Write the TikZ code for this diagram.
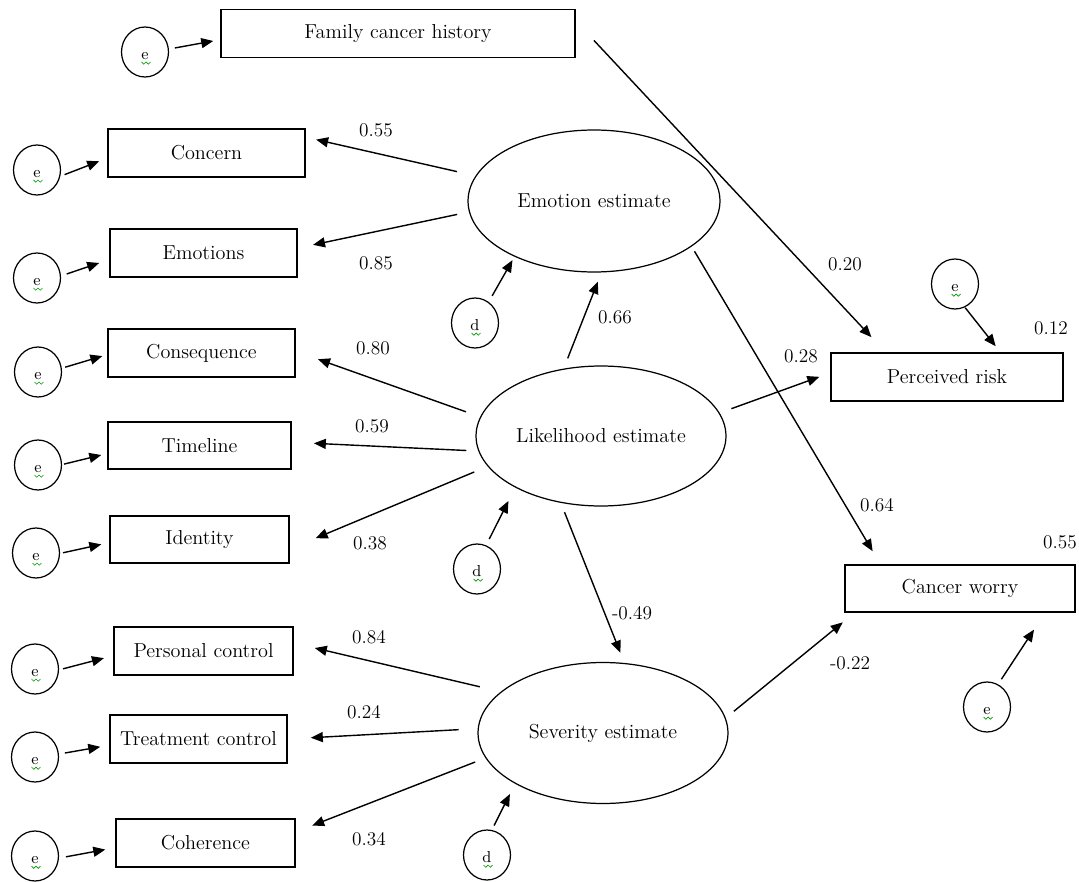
\documentclass[tikz,border=0pt]{standalone}
\usetikzlibrary{shapes.geometric}
\usetikzlibrary{arrows.meta}

\tikzset{
  obs/.style={draw, line width=1pt, rectangle, inner sep=0pt, minimum height=0.96cm, font=\fontsize{11.5}{13}\selectfont},
  lat/.style={draw, line width=0.7pt, ellipse, inner sep=0pt, minimum width=5cm, minimum height=2.82cm, font=\fontsize{11.5}{13}\selectfont},
  res/.style={draw, line width=0.7pt, ellipse, inner sep=0pt, minimum width=0.94cm, minimum height=1cm, font=\fontsize{9}{9}\selectfont,
    path picture={\draw[green!60!black, line width=0.4pt] ([xshift=-0.7mm,yshift=-2.0mm]path picture bounding box.center) -- ++(0.45mm,-0.45mm) -- ++(0.45mm,0.45mm) -- ++(0.45mm,-0.45mm) -- ++(0.45mm,0.45mm);}},
  coef/.style={inner sep=0pt, font=\fontsize{11}{12}\selectfont},
  arr/.style={-{Triangle[length=2.4mm,width=2mm]}, line width=0.8pt}
}
\newcommand{\resl}[1]{\raisebox{-1.5mm}[0pt][0pt]{#1}}

\begin{document}
\begin{tikzpicture}[x=0.02cm, y=-0.02cm]
\useasboundingbox (0,0) rectangle (1079,882);

%observed
\node[obs, minimum width=7.08cm] (fch) at (398,33.5) {Family cancer history};
\node[obs, minimum width=3.94cm] (concern) at (206.5,153) {Concern};
\node[obs, minimum width=3.74cm] (emotions) at (203.5,253) {Emotions};
\node[obs, minimum width=3.74cm] (conseq) at (201.5,353) {Consequence};
\node[obs, minimum width=3.66cm, minimum height=0.94cm] (timeline) at (199.5,445.5) {Timeline};
\node[obs, minimum width=3.58cm, minimum height=0.94cm] (identity) at (199.5,539.5) {Identity};
\node[obs, minimum width=3.58cm] (pcontrol) at (203.5,651) {Personal control};
\node[obs, minimum width=3.54cm] (tcontrol) at (198.5,739) {Treatment control};
\node[obs, minimum width=3.58cm] (coherence) at (205.5,843) {Coherence};
\node[obs, minimum width=4.64cm] (prisk) at (947,377) {Perceived risk};
\node[obs, minimum width=4.60cm, minimum height=0.94cm] (cworry) at (960,588.5) {Cancer worry};

%latent
\node[lat, minimum width=5.04cm, minimum height=2.84cm] (emo) at (594,201) {Emotion estimate};
\node[lat, minimum height=2.8cm] (lik) at (601,436) {Likelihood estimate};
\node[lat] (sev) at (603,733) {Severity estimate};

%errors
\node[res] (e0) at (145,52) {\resl{e}};
\node[res] (e1) at (37,170) {\resl{e}};
\node[res] (e2) at (37,278) {\resl{e}};
\node[res] (e3) at (38,372) {\resl{e}};
\node[res] (e4) at (38,465) {\resl{e}};
\node[res] (e5) at (36,553) {\resl{e}};
\node[res] (e6) at (35,669) {\resl{e}};
\node[res] (e7) at (35,757) {\resl{e}};
\node[res] (e8) at (35,856) {\resl{e}};
\node[res] (e9) at (955,284) {\resl{e}};
\node[res] (e10) at (987,707) {\resl{e}};
\node[res] (d1) at (475,323) {\resl{d}};
\node[res] (d2) at (477,569) {\resl{d}};
\node[res] (d3) at (487,855) {\resl{d}};

%error arrows
\draw[arr, shorten <=1.2mm, shorten >=1.4mm] (e0.7.3) -- (fch.182.4);
\draw[arr, shorten <=0.9mm, shorten >=1.7mm] (e1.345) -- (concern.183.5);
\draw[arr, shorten <=1.2mm, shorten >=2.1mm] (e2.5) -- (emotions.184.1);
\draw[arr, shorten <=0.7mm, shorten >=1.0mm] (e3.9.9) -- (conseq.181.7);
\draw[arr, shorten <=0.4mm, shorten >=1.2mm] (e4.1.2) -- (timeline.185.1);
\draw[arr, shorten <=0.6mm, shorten >=1.6mm] (e5.-1.5) -- (identity.182.5);
\draw[arr, shorten <=0.8mm, shorten >=1.9mm] (e6.-2) -- (pcontrol.183.8);
\draw[arr, shorten <=1.2mm, shorten >=1.8mm] (e7.7.1) -- (tcontrol.184.2);
\draw[arr, shorten <=1.4mm, shorten >=2.0mm] (e8.-5.2) -- (coherence.183.3);
\draw[arr, shorten <=0.1mm, shorten >=1.5mm] (e9.293.5) -- (prisk.25.6);
\draw[arr, shorten <=1.2mm, shorten >=4.0mm] (e10.64.7) -- (cworry.344.1);
\draw[arr, shorten <=1.4mm, shorten >=0.8mm] (d1.57.3) -- (emo.215.1);
\draw[arr, shorten <=1.4mm, shorten >=3.0mm] (d2.69.1) -- (lik.211.7);
\draw[arr, shorten <=1.0mm, shorten >=2.3mm] (d3.79.2) -- (sev.210.4);

%loadings
\draw[arr, shorten <=3.8mm, shorten >=2.1mm] (emo.168.8) -- (concern.9.5);
\draw[arr, shorten <=2.4mm, shorten >=3.1mm] (emo.185.3) -- (emotions.3);
\draw[arr, shorten <=3.0mm, shorten >=4.7mm] (lik.171) -- (conseq.1.1);
\draw[arr, shorten <=2.4mm, shorten >=4.4mm] (lik.187.3) -- (timeline.2.25);
\draw[arr, shorten <=2.9mm, shorten >=5.6mm] (lik.195.2) -- (identity.354.8);
\draw[arr, shorten <=4.3mm, shorten >=4.3mm] (sev.158.8) -- (pcontrol.5.2);
\draw[arr, shorten <=3.8mm, shorten >=4.6mm] (sev.178.7) -- (tcontrol.0.7);
\draw[arr, shorten <=2.2mm, shorten >=3.5mm] (sev.192.9) -- (coherence.7.1);

%paths
\draw[arr, shorten <=2.2mm, shorten >=2.0mm] (lik.119) -- (emo.276.9);
\draw[arr, shorten <=2.0mm, shorten >=2.2mm] (lik.239.9) -- (sev.73.2);
\draw[arr, shorten <=5.3mm, shorten >=4.1mm] (fch.4.46) -- (prisk.158.5);
\draw[arr, shorten <=2.5mm, shorten >=2.3mm] (lik.11) -- (prisk.178.6);
\draw[arr, shorten <=1.1mm, shorten >=3.0mm] (emo.335.7) -- (cworry.163.7);
\draw[arr, shorten <=2.1mm, shorten >=3.0mm] (sev.7.7) -- (cworry.193.3);

%coefficients
\node[coef] (c1) at (376,130) {0.55};
\node[coef] (c2) at (376,263) {0.85};
\node[coef] (c3) at (615,317) {0.66};
\node[coef] (c4) at (373,348) {0.80};
\node[coef] (c5) at (372,426) {0.59};
\node[coef] (c6) at (370,543) {0.38};
\node[coef] (c7) at (632,613) {-0.49};
\node[coef] (c8) at (369,637) {0.84};
\node[coef] (c9) at (364,712) {0.24};
\node[coef] (c10) at (369,839) {0.34};
\node[coef] (c11) at (845,264) {0.20};
\node[coef] (c12) at (1051,328) {0.12};
\node[coef] (c13) at (801,356) {0.28};
\node[coef] (c14) at (877,505) {0.64};
\node[coef] (c15) at (1060,542) {0.55};
\node[coef] (c16) at (850,663) {-0.22};

\end{tikzpicture}
\end{document}
